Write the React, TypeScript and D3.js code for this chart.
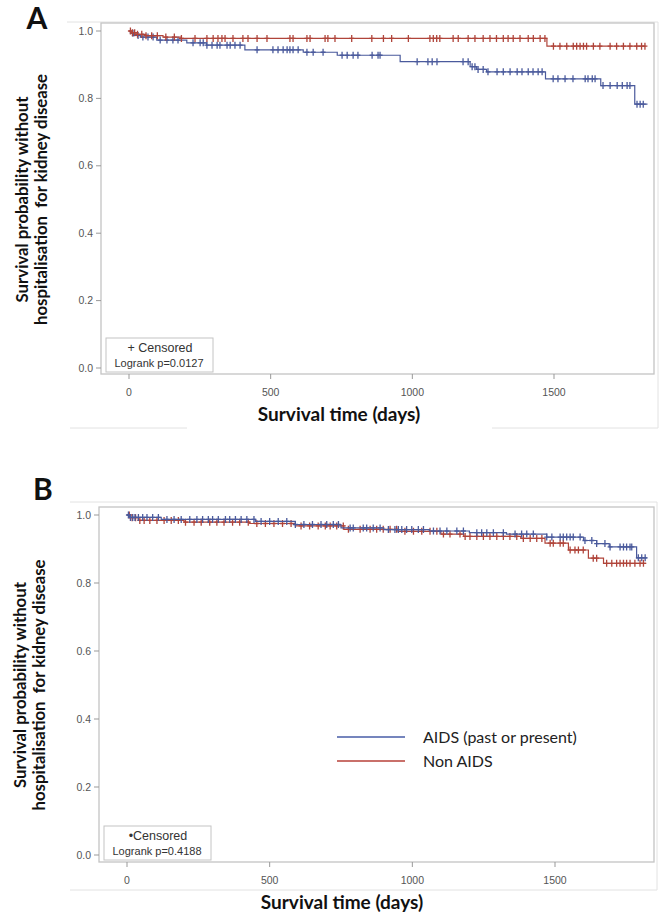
import React from "react";
import * as d3 from "d3";

// ---------- DATA ----------
const xTicks = [0, 500, 1000, 1500];
const yTicks = [0, 0.2, 0.4, 0.6, 0.8, 1.0];

// Panel A
const aRedDays = [0, 8, 25, 60, 120, 185, 1475];
const aRedSurv = [1.0, 0.995, 0.99, 0.986, 0.982, 0.978, 0.955];
const aRedEnd = 1822;
const aRedCensor = [5, 12, 20, 30, 45, 60, 80, 100, 130, 160, 185, 233, 275, 297, 314, 328, 339, 367, 402, 420, 452, 487, 568, 579, 628, 639, 692, 702, 727, 786, 857, 898, 927, 986, 1062, 1074, 1086, 1097, 1144, 1162, 1197, 1221, 1250, 1274, 1297, 1321, 1338, 1356, 1380, 1409, 1427, 1451, 1468, 1498, 1521, 1545, 1568, 1580, 1592, 1604, 1615, 1639, 1662, 1698, 1721, 1745, 1768, 1792, 1809, 1821];

const aBlueDays = [0, 5, 15, 40, 98, 204, 274, 409, 615, 735, 957, 1204, 1227, 1262, 1470, 1665, 1785];
const aBlueSurv = [1.0, 0.993, 0.987, 0.982, 0.973, 0.965, 0.958, 0.944, 0.937, 0.928, 0.909, 0.894, 0.886, 0.879, 0.858, 0.838, 0.783];
const aBlueEnd = 1830;
const aBlueCensor = [14, 32, 49, 67, 85, 110, 134, 155, 173, 226, 251, 262, 275, 293, 311, 321, 346, 357, 374, 392, 452, 508, 526, 544, 558, 568, 579, 597, 628, 650, 685, 752, 770, 791, 808, 858, 879, 886, 1017, 1055, 1070, 1087, 1179, 1197, 1211, 1221, 1232, 1250, 1267, 1299, 1321, 1345, 1370, 1387, 1409, 1426, 1444, 1458, 1497, 1514, 1539, 1567, 1610, 1620, 1635, 1645, 1673, 1698, 1723, 1741, 1758, 1768, 1793, 1804, 1815];

// Panel B
const bBlueDays = [0, 8, 120, 450, 590, 750, 900, 1060, 1200, 1330, 1471, 1600, 1646, 1690, 1786];
const bBlueSurv = [1.0, 0.993, 0.987, 0.981, 0.972, 0.962, 0.957, 0.953, 0.948, 0.944, 0.935, 0.925, 0.916, 0.906, 0.874];
const bBlueEnd = 1822;
const bBlueCensor = [5, 12, 20, 28, 40, 55, 70, 90, 110, 140, 165, 190, 220, 245, 265, 285, 300, 320, 345, 360, 380, 400, 420, 445, 470, 500, 530, 560, 590, 620, 650, 680, 700, 723, 741, 782, 793, 828, 840, 863, 887, 916, 939, 951, 963, 980, 998, 1021, 1039, 1074, 1097, 1121, 1156, 1179, 1226, 1243, 1261, 1284, 1319, 1360, 1383, 1401, 1424, 1471, 1489, 1518, 1529, 1541, 1553, 1564, 1588, 1605, 1629, 1646, 1675, 1693, 1728, 1740, 1751, 1763, 1769, 1792, 1804, 1816];

const bRedDays = [0, 10, 40, 200, 430, 590, 760, 950, 1100, 1180, 1380, 1465, 1547, 1617, 1670];
const bRedSurv = [1.0, 0.992, 0.984, 0.979, 0.975, 0.968, 0.958, 0.952, 0.944, 0.937, 0.931, 0.917, 0.897, 0.873, 0.858];
const bRedEnd = 1820;
const bRedCensor = [8, 18, 30, 45, 60, 80, 105, 130, 155, 180, 205, 235, 260, 290, 315, 340, 370, 395, 425, 455, 485, 515, 545, 575, 610, 640, 670, 695, 712, 735, 758, 776, 817, 852, 875, 898, 922, 945, 974, 1004, 1033, 1062, 1086, 1109, 1132, 1167, 1185, 1202, 1226, 1249, 1272, 1296, 1319, 1342, 1366, 1389, 1413, 1436, 1454, 1483, 1494, 1518, 1529, 1553, 1570, 1582, 1599, 1634, 1646, 1681, 1699, 1716, 1728, 1740, 1751, 1763, 1780, 1798, 1810];

const seriesNames = ["AIDS (past or present)", "Non AIDS"];
const panelLetters = ["A", "B"];
const logrankTexts = ["Logrank p=0.0127", "Logrank p=0.4188"];
const censoredTexts = ["+ Censored", "\u2022Censored"];
const yTitle1 = "Survival probability without";
const yTitle2 = "hospitalisation  for kidney disease";
const xTitle = "Survival time (days)";

// ---------- STYLE ----------
const BLUE = "#4a5a9c";
const RED = "#b0443a";
const FRAME = "#c4c4c4";
const TICKTXT = "#555";
const BOLD = "Lato, 'Open Sans', sans-serif";
const TICKFONT = "'Liberation Sans', Arial, sans-serif";

type Series = { days: number[]; surv: number[]; end: number; censor: number[]; color: string };

function survAt(s: Series, t: number) {
  let v = s.surv[0];
  for (let i = 0; i < s.days.length; i++) if (s.days[i] <= t) v = s.surv[i];
  return v;
}

function Panel({ frame, xRange, yRange, series, idx, outer, titleX }: any) {
  const x = d3.scaleLinear().domain([0, 1500]).range(xRange);
  const y = d3.scaleLinear().domain([0, 1]).range(yRange);
  const line = d3
    .line<[number, number]>()
    .x((d) => x(d[0]))
    .y((d) => y(d[1]))
    .curve(d3.curveStepAfter);
  const fb = frame.y + frame.h;
  const plotCy = (yRange[0] + yRange[1]) / 2;
  return (
    <g>
      {outer.map((l: number[], i: number) => (
        <line key={i} x1={l[0]} y1={l[1]} x2={l[2]} y2={l[3]} stroke="#e2e2e2" strokeWidth={1} />
      ))}
      <rect x={frame.x} y={frame.y} width={frame.w} height={frame.h} fill="white" stroke={FRAME} strokeWidth={1.3} />
      {yTicks.map((t) => (
        <g key={t}>
          <line x1={frame.x - 5} x2={frame.x} y1={y(t)} y2={y(t)} stroke="#999" />
          <text x={frame.x - 8} y={y(t)} dy="0.35em" textAnchor="end" fontSize={10.5} fill={TICKTXT} fontFamily={TICKFONT}>
            {t.toFixed(1)}
          </text>
        </g>
      ))}
      {xTicks.map((t) => (
        <g key={t}>
          <line x1={x(t)} x2={x(t)} y1={fb} y2={fb + 5} stroke="#999" />
          <text x={x(t)} y={fb + 22} textAnchor="middle" fontSize={10.5} fill={TICKTXT} fontFamily={TICKFONT}>
            {t}
          </text>
        </g>
      ))}
      {series.map((s: Series, i: number) => {
        const pts: [number, number][] = s.days.map((d, j) => [d, s.surv[j]] as [number, number]);
        pts.push([s.end, s.surv[s.surv.length - 1]]);
        return (
          <g key={i}>
            <path d={line(pts) || ""} fill="none" stroke={s.color} strokeWidth={1.2} />
            {s.censor.map((c, k) => {
              const px = x(c);
              const py = y(survAt(s, c));
              return (
                <path
                  key={k}
                  d={`M${px - 2.5},${py}H${px + 2.5}M${px},${py - 3.5}V${py + 3.5}`}
                  stroke={s.color}
                  strokeWidth={1.3}
                  fill="none"
                />
              );
            })}
          </g>
        );
      })}
      {/* inset legend */}
      <rect x={frame.x + 5} y={fb - 36} width={107} height={34} fill="white" stroke={FRAME} strokeWidth={1} />
      <text x={frame.x + 59} y={fb - 22} textAnchor="middle" fontSize={12.5} fill="#333" fontFamily={TICKFONT}>
        {censoredTexts[idx]}
      </text>
      <text x={frame.x + 58} y={fb - 7} textAnchor="middle" fontSize={11} fill="#333" fontFamily={TICKFONT}>
        {logrankTexts[idx]}
      </text>
      {/* titles */}
      <text x={titleX} y={fb + 47} textAnchor="middle" fontSize={19} fontWeight="bold" fill="#111" fontFamily={BOLD}>
        {xTitle}
      </text>
      <text transform={`translate(${idx === 0 ? 28 : 26},${plotCy}) rotate(-90)`} textAnchor="middle" fontSize={16.8} fontWeight="bold" fill="#111" fontFamily={BOLD}>
        {yTitle1}
      </text>
      <text transform={`translate(${idx === 0 ? 47 : 45},${plotCy}) rotate(-90)`} textAnchor="middle" fontSize={16.8} fontWeight="bold" fill="#111" fontFamily={BOLD} style={{ whiteSpace: "pre" }}>
        {yTitle2}
      </text>
      <text x={idx === 0 ? 37 : 43} y={idx === 0 ? 29 : 500} textAnchor="middle" fontSize={30} fontWeight="bold" fill="#111" fontFamily={BOLD}>
        {panelLetters[idx]}
      </text>
    </g>
  );
}

export default function App() {
  const aSeries: Series[] = [
    { days: aBlueDays, surv: aBlueSurv, end: aBlueEnd, censor: aBlueCensor, color: BLUE },
    { days: aRedDays, surv: aRedSurv, end: aRedEnd, censor: aRedCensor, color: RED },
  ];
  const bSeries: Series[] = [
    { days: bRedDays, surv: bRedSurv, end: bRedEnd, censor: bRedCensor, color: RED },
    { days: bBlueDays, surv: bBlueSurv, end: bBlueEnd, censor: bBlueCensor, color: BLUE },
  ];
  return (
    <svg width={669} height={924} style={{ position: "absolute", left: 0, top: 0, background: "white" }}>
      <rect width={669} height={924} fill="white" />
      <Panel
        idx={0}
        frame={{ x: 101, y: 23, w: 553, h: 351 }}
        xRange={[129, 554]}
        yRange={[368, 31]}
        series={aSeries}
        titleX={339}
        outer={[
          [67, 22, 658, 22],
          [658, 22, 658, 428],
          [70, 428, 187, 428],
          [492, 428, 658, 428],
        ]}
      />
      <Panel
        idx={1}
        frame={{ x: 99, y: 507, w: 555, h: 355 }}
        xRange={[127, 555]}
        yRange={[855, 515]}
        series={bSeries}
        titleX={342}
        outer={[
          [70, 502, 657, 502],
          [657, 502, 657, 890],
          [70, 890, 657, 890],
        ]}
      />
      {/* series legend for B */}
      <line x1={337} x2={405} y1={737} y2={737} stroke="#7585bd" strokeWidth={2} />
      <line x1={337} x2={405} y1={761} y2={761} stroke="#c9706a" strokeWidth={2} />
      <text x={423} y={737} dy="0.35em" fontSize={16} fill="#222" fontFamily={BOLD}>
        {seriesNames[0]}
      </text>
      <text x={423} y={761} dy="0.35em" fontSize={16} fill="#222" fontFamily={BOLD}>
        {seriesNames[1]}
      </text>
    </svg>
  );
}
